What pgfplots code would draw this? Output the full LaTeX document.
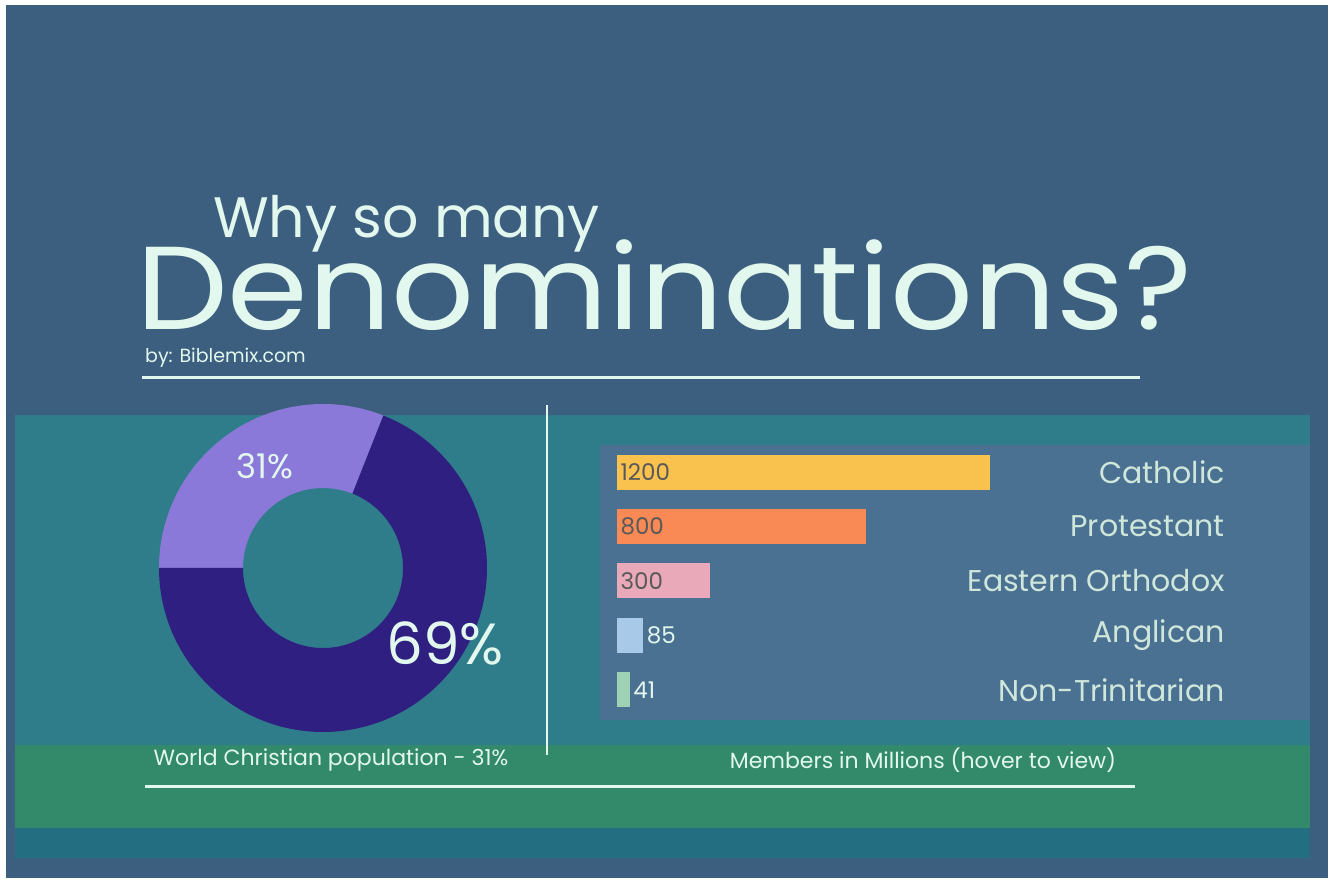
\documentclass[border=0pt]{standalone}
\usepackage{pgfplots}
\pgfplotsset{compat=1.18}
\usepackage{fontspec}
\setmainfont{Poppins}

\definecolor{bgslate}{HTML}{3C5F7F}
\definecolor{panelteal}{HTML}{2F7D8B}
\definecolor{panelslate}{HTML}{4B7192}
\definecolor{bandgreen}{HTML}{338A6A}
\definecolor{bandteal}{HTML}{236E80}
\definecolor{mint}{HTML}{E2F7EE}
\definecolor{catmint}{HTML}{CFE6DA}
\definecolor{cathol}{HTML}{F9C24E}
\definecolor{protes}{HTML}{F98A55}
\definecolor{orthod}{HTML}{E9A9B9}
\definecolor{anglic}{HTML}{A9C9E9}
\definecolor{nontri}{HTML}{9FD2B4}
\definecolor{darkpurple}{HTML}{2F1F80}
\definecolor{lightpurple}{HTML}{8B79D9}

% share of world population (percent)
\def\christshare{31}

\begin{document}
\begin{tikzpicture}[x=1pt,y=1pt]
% background blocks
\fill[white] (0,0) rectangle (1333,882);
\fill[bgslate] (6,4) rectangle (1328,877);
\fill[panelteal] (15,137) rectangle (1310,467);
\fill[panelslate] (600,162) rectangle (1310,437);
\fill[bandgreen] (15,54) rectangle (1310,137);
\fill[bandteal] (15,24) rectangle (1310,54);

% titles
\node[anchor=base west, text=mint, inner sep=0pt, font=\fontsize{57}{66}\selectfont] at (213,644) {Why so many};
\node[anchor=base west, text=mint, inner sep=0pt, xscale=1.1, font=\fontsize{118}{130}\selectfont] at (136,552) {Denominations?};
\node[anchor=base west, text=mint, inner sep=0pt, font=\fontsize{19}{22}\selectfont] at (145,519) {by: Biblemix.com};
\draw[mint, line width=3pt] (142,504) -- (1140,504);
\draw[mint, line width=2.5pt] (547,477) -- (547,127);
\draw[mint, line width=3pt] (145,95) -- (1135,95);

% donut
\begin{axis}[
  at={(323pt,314pt)}, anchor=center,
  width=330pt, height=330pt, scale only axis,
  xmin=-1, xmax=1, ymin=-1, ymax=1,
  hide axis, clip=false
]
\pgfmathsetmacro{\sweep}{3.6*\christshare}
\pgfmathsetmacro{\startang}{180-\sweep}
\pgfmathsetmacro{\endang}{180}
\pgfmathsetmacro{\darkend}{360+\startang}
\fill[lightpurple] ([shift={(axis cs:0,0)}]\startang:164pt) arc[start angle=\startang, end angle=\endang, radius=164pt]
  -- ([shift={(axis cs:0,0)}]\endang:80pt) arc[start angle=\endang, end angle=\startang, radius=80pt] -- cycle;
\fill[darkpurple] ([shift={(axis cs:0,0)}]\endang:164pt) arc[start angle=\endang, end angle=\darkend, radius=164pt]
  -- ([shift={(axis cs:0,0)}]\darkend:80pt) arc[start angle=\darkend, end angle=\endang, radius=80pt] -- cycle;
\node[text=mint, font=\fontsize{34}{40}\selectfont] at (axis cs:-0.35,0.62) {\christshare\%};
\node[text=mint, font=\fontsize{58}{66}\selectfont] at (axis cs:0.74,-0.46) {69\%};
\end{axis}

\node[text=mint, font=\fontsize{22}{26}\selectfont] at (331,122) {World Christian population - 31\%};
\node[text=mint, font=\fontsize{22}{26}\selectfont] at (923,122) {Members in Millions (hover to view)};

% bars
\begin{axis}[
  at={(617pt,165pt)}, anchor=south west,
  width=608pt, height=272pt, scale only axis,
  xmin=0, xmax=1955, ymin=-0.5, ymax=4.5,
  hide axis, clip=false,
  xbar, bar width=35pt, bar shift=0pt
]
\addplot[draw=none, fill=cathol] coordinates {(1200,4)};
\addplot[draw=none, fill=protes] coordinates {(800,3)};
\addplot[draw=none, fill=orthod] coordinates {(300,2)};
\addplot[draw=none, fill=anglic] coordinates {(85,1)};
\addplot[draw=none, fill=nontri] coordinates {(41,0)};
\node[anchor=west, text=black!65, font=\fontsize{23}{26}\selectfont] at (axis cs:0,4) {1200};
\node[anchor=west, text=black!65, font=\fontsize{23}{26}\selectfont] at (axis cs:0,3) {800};
\node[anchor=west, text=black!65, font=\fontsize{23}{26}\selectfont] at (axis cs:0,2) {300};
\node[anchor=west, text=mint, font=\fontsize{23}{26}\selectfont] at (axis cs:85,1) {85};
\node[anchor=west, text=mint, font=\fontsize{23}{26}\selectfont] at (axis cs:41,0) {41};
\node[anchor=east, text=catmint, inner sep=0pt, font=\fontsize{30}{34}\selectfont] at (axis cs:1955,4) {Catholic};
\node[anchor=east, text=catmint, inner sep=0pt, font=\fontsize{30}{34}\selectfont] at (axis cs:1955,3) {Protestant};
\node[anchor=east, text=catmint, inner sep=0pt, font=\fontsize{30}{34}\selectfont] at (axis cs:1955,2) {Eastern Orthodox};
\node[anchor=east, text=catmint, inner sep=0pt, font=\fontsize{30}{34}\selectfont] at (axis cs:1955,1) {Anglican};
\node[anchor=east, text=catmint, inner sep=0pt, font=\fontsize{30}{34}\selectfont] at (axis cs:1955,0) {Non-Trinitarian};
\end{axis}
\end{tikzpicture}
\end{document}
